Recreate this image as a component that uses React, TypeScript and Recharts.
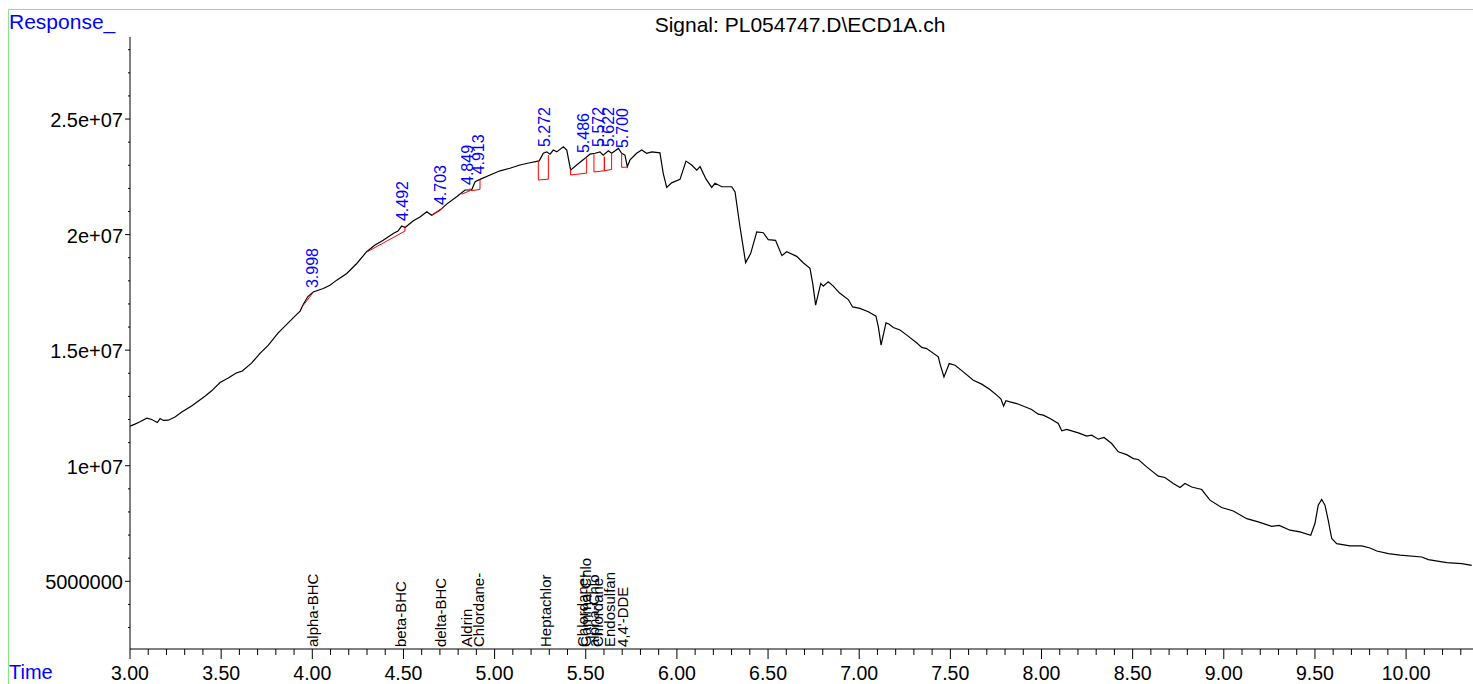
import React from 'react';
import { ComposedChart, Line, XAxis, YAxis, Scatter, ReferenceLine } from 'recharts';

// retention time (min)
const times = [
  3.0, 3.027, 3.055, 3.092, 3.119, 3.15, 3.165, 3.183, 3.21, 3.247, 3.284, 3.338, 3.411, 3.448, 3.494,
  3.539, 3.585, 3.616, 3.668, 3.713, 3.759, 3.813, 3.868, 3.905, 3.933, 3.951, 3.975, 4.005, 4.06, 4.097,
  4.134, 4.189, 4.244, 4.298, 4.344, 4.389, 4.444, 4.47, 4.49, 4.509, 4.554, 4.591, 4.628, 4.655, 4.701,
  4.737, 4.792, 4.838, 4.874, 4.893, 4.92, 4.975, 5.03, 5.084, 5.139, 5.194, 5.245, 5.267, 5.286, 5.304,
  5.322, 5.341, 5.377, 5.396, 5.417, 5.45, 5.496, 5.523, 5.551, 5.578, 5.596, 5.624, 5.642, 5.679, 5.697,
  5.715, 5.728, 5.743, 5.779, 5.807, 5.834, 5.862, 5.907, 5.925, 5.944, 5.971, 6.017, 6.05, 6.081, 6.109,
  6.127, 6.16, 6.191, 6.209, 6.246, 6.301, 6.319, 6.346, 6.377, 6.405, 6.438, 6.474, 6.501, 6.541, 6.576,
  6.602, 6.657, 6.693, 6.73, 6.745, 6.761, 6.789, 6.803, 6.83, 6.858, 6.891, 6.94, 6.964, 7.004, 7.05,
  7.092, 7.105, 7.12, 7.147, 7.163, 7.187, 7.224, 7.261, 7.315, 7.343, 7.37, 7.434, 7.443, 7.465, 7.494,
  7.526, 7.571, 7.626, 7.672, 7.717, 7.761, 7.778, 7.792, 7.805, 7.827, 7.864, 7.919, 7.946, 7.982, 8.01,
  8.047, 8.092, 8.111, 8.138, 8.202, 8.248, 8.275, 8.312, 8.343, 8.385, 8.421, 8.467, 8.504, 8.531, 8.577,
  8.641, 8.677, 8.723, 8.76, 8.787, 8.824, 8.879, 8.924, 8.988, 9.052, 9.126, 9.189, 9.263, 9.304, 9.363,
  9.418, 9.477, 9.5, 9.518, 9.537, 9.555, 9.573, 9.592, 9.619, 9.692, 9.756, 9.802, 9.839, 9.903, 9.967,
  10.086, 10.122, 10.223, 10.305, 10.36,
];

// detector response, millions
const responseM = [
  11.71, 11.8, 11.9, 12.06, 12.0, 11.87, 12.04, 11.96, 11.97, 12.11, 12.32, 12.58, 13.01, 13.24, 13.6,
  13.8, 14.02, 14.1, 14.45, 14.86, 15.22, 15.75, 16.18, 16.47, 16.69, 16.99, 17.31, 17.52, 17.67, 17.81,
  18.03, 18.32, 18.75, 19.26, 19.55, 19.76, 20.05, 20.15, 20.37, 20.31, 20.6, 20.76, 20.99, 20.84, 21.06,
  21.32, 21.64, 21.93, 21.93, 22.29, 22.39, 22.58, 22.76, 22.87, 23.01, 23.11, 23.19, 23.52, 23.58, 23.48,
  23.66, 23.58, 23.8, 23.66, 22.79, 23.01, 23.3, 23.48, 23.52, 23.58, 23.44, 23.63, 23.52, 23.73, 23.52,
  23.44, 22.94, 23.23, 23.52, 23.66, 23.52, 23.58, 23.54, 22.65, 22.04, 22.24, 22.39, 23.18, 23.01, 22.79,
  22.94, 22.4, 22.04, 22.22, 22.07, 22.07, 21.85, 20.34, 18.79, 19.19, 20.12, 20.08, 19.78, 19.75, 19.09,
  19.26, 19.06, 18.78, 18.54, 17.89, 16.95, 17.89, 17.77, 17.96, 17.77, 17.48, 17.19, 16.87, 16.81, 16.66,
  16.47, 16.01, 15.22, 16.18, 16.13, 15.98, 15.87, 15.65, 15.32, 15.12, 15.07, 14.71, 14.42, 13.84, 14.42,
  14.35, 14.06, 13.7, 13.53, 13.3, 13.01, 12.88, 12.58, 12.81, 12.76, 12.69, 12.52, 12.43, 12.23, 12.19,
  12.04, 11.83, 11.51, 11.57, 11.42, 11.28, 11.32, 11.15, 11.22, 10.96, 10.6, 10.48, 10.31, 10.27, 9.95,
  9.55, 9.49, 9.23, 9.06, 9.23, 9.08, 8.97, 8.51, 8.19, 8.04, 7.71, 7.57, 7.38, 7.42, 7.21,
  7.14, 6.99, 7.5, 8.29, 8.54, 8.29, 7.64, 6.85, 6.63, 6.53, 6.53, 6.44, 6.31, 6.2, 6.13,
  6.05, 5.94, 5.81, 5.76, 5.69,
];

// integrated peaks
const peakTimes = [3.998, 4.492, 4.703, 4.849, 4.913, 5.272, 5.486, 5.572, 5.622, 5.7];
const peakApexM = [17.47, 20.37, 21.06, 21.93, 22.39, 23.57, 23.31, 23.58, 23.57, 23.53];

// integration baselines (start/end time, curve value, baseline value), millions
const baseStartT = [3.947, 4.302, 4.655, 4.82, 4.874, 5.24, 5.417, 5.545, 5.602, 5.697];
const baseStartCurveM = [16.9, 19.26, 20.84, 21.75, 21.93, 23.19, 22.83, 23.48, 23.37, 23.55];
const baseStartM = [16.9, 19.26, 20.84, 21.75, 21.9, 22.36, 22.58, 22.71, 22.76, 22.91];
const baseEndT = [4.005, 4.508, 4.719, 4.865, 4.92, 5.295, 5.505, 5.602, 5.642, 5.728];
const baseEndM = [17.5, 20.15, 21.18, 21.9, 21.96, 22.4, 22.66, 22.76, 22.82, 22.92];
const baseEndCurveM = [17.52, 20.37, 21.18, 22.0, 22.39, 23.44, 23.3, 23.37, 23.52, 22.94];

// compound names on the time axis
const compoundNames = [
  'alpha-BHC', 'beta-BHC', 'delta-BHC', 'Aldrin', 'Chlordane-', 'Heptachlor',
  'Chlordane-', 'Gamma-Chlo', 'alpha-Chlo', 'Chlordane', 'Endosulfan', "4,4'-DDE",
];
const compoundTimes = [4.005, 4.487, 4.704, 4.847, 4.911, 5.282, 5.485, 5.5, 5.545, 5.567, 5.629, 5.703];

const Y_MIN = 2.07e6;
const Y_MAX = 2.855e7;
const X_MIN = 3;
const X_MAX = 10.367;

const curve = times.map((t, i) => ({ t, v: responseM[i] * 1e6 }));
const peaks = peakTimes.map((t, i) => ({ t, v: peakApexM[i] * 1e6, label: t.toFixed(3) }));
const compounds = compoundTimes.map((t, i) => ({ t, v: Y_MIN, name: compoundNames[i] }));

const xTicks = Array.from({ length: 74 }, (_, i) => Math.round((3 + i * 0.1) * 10) / 10);
const yTicks = Array.from({ length: 26 }, (_, i) => (3 + i) * 1e6);

const FONT = '"Liberation Sans", Arial, sans-serif';

const fmtY = (v: number) => (v >= 1e7 ? `${v / 1e7}e+07` : `${v}`);

const XTick = (props: any) => {
  const { x, y, payload } = props;
  const v = payload.value;
  const major = Math.abs(v * 2 - Math.round(v * 2)) < 1e-6;
  return (
    <g>
      <line x1={x} x2={x} y1={y} y2={y + (major ? 10 : 6)} stroke="#000" />
      {major && (
        <text x={x} y={y + 31} textAnchor="middle" fontSize={19.5} fontFamily={FONT} fill="#000">
          {v.toFixed(2)}
        </text>
      )}
    </g>
  );
};

const YTick = (props: any) => {
  const { x, y, payload } = props;
  const v = payload.value;
  const major = Math.round(v / 1e6) % 5 === 0;
  return (
    <g>
      <line x1={x - (major ? 5 : 2)} x2={x} y1={y} y2={y} stroke="#000" />
      {major && (
        <text x={x - 7} y={y + 8} textAnchor="end" fontSize={20} fontFamily={FONT} fill="#000">
          {fmtY(v)}
        </text>
      )}
    </g>
  );
};

const PeakLabel = (props: any) => {
  const { cx, cy, payload } = props;
  const y = cy - 5;
  return (
    <text
      x={cx}
      y={y}
      dy="0.35em"
      transform={`rotate(-90 ${cx} ${y})`}
      textAnchor="start"
      fontSize={16}
      fontFamily={FONT}
      fill="#0000ff"
    >
      {payload.label}
    </text>
  );
};

const CompoundLabel = (props: any) => {
  const { cx, cy, payload } = props;
  const y = cy - 2;
  return (
    <text
      x={cx}
      y={y}
      dy="0.35em"
      transform={`rotate(-90 ${cx} ${y})`}
      textAnchor="start"
      fontSize={15}
      fontFamily={FONT}
      fill="#000"
    >
      {payload.name}
    </text>
  );
};

export default function App() {
  const segs: Array<[number, number, number, number]> = [];
  baseStartT.forEach((t0, i) => {
    const t1 = baseEndT[i];
    segs.push([t0, baseStartCurveM[i], t0, baseStartM[i]]);
    segs.push([t0, baseStartM[i], t1, baseEndM[i]]);
    segs.push([t1, baseEndM[i], t1, baseEndCurveM[i]]);
  });

  return (
    <div style={{ position: 'fixed', left: 0, top: 0, width: 1473, height: 684, overflow: 'hidden', background: '#fff' }}>
      <div
        style={{
          position: 'absolute',
          left: 8,
          top: 9,
          width: 1500,
          height: 700,
          borderLeft: '1px solid #88e888',
          borderTop: '1px solid #88e888',
        }}
      />
      <div style={{ position: 'absolute', left: 8, top: 8 }}>
        <ComposedChart width={1465} height={676} data={curve} margin={{ top: 29, right: 0, bottom: 0, left: 0 }}>
          <XAxis
            type="number"
            dataKey="t"
            domain={[X_MIN, X_MAX]}
            ticks={xTicks}
            interval={0}
            tick={<XTick />}
            tickLine={false}
            tickSize={0}
            tickMargin={0}
            axisLine={{ stroke: '#000' }}
            height={35}
            allowDataOverflow
          />
          <YAxis
            type="number"
            domain={[Y_MIN, Y_MAX]}
            ticks={yTicks}
            interval={0}
            tick={<YTick />}
            tickLine={false}
            tickSize={0}
            tickMargin={0}
            axisLine={{ stroke: '#000' }}
            width={122}
            allowDataOverflow
          />
          <Line
            dataKey="v"
            type="linear"
            stroke="#000"
            strokeWidth={1.2}
            dot={false}
            activeDot={false}
            isAnimationActive={false}
          />
          {segs.map((s, i) => (
            <ReferenceLine
              key={i}
              segment={[
                { x: s[0], y: s[1] * 1e6 },
                { x: s[2], y: s[3] * 1e6 },
              ]}
              stroke="#ff0000"
              strokeWidth={1}
              ifOverflow="visible"
            />
          ))}
          <Scatter data={peaks} dataKey="v" shape={<PeakLabel />} isAnimationActive={false} />
          <Scatter data={compounds} dataKey="v" shape={<CompoundLabel />} isAnimationActive={false} />
        </ComposedChart>
      </div>
      <svg width={1473} height={684} style={{ position: 'absolute', left: 0, top: 0, pointerEvents: 'none' }}>
        <text x={9} y={29} fontSize={21} fontFamily={FONT} fill="#0000ff">
          Response_
        </text>
        <text x={800} y={32} textAnchor="middle" fontSize={21} fontFamily={FONT} fill="#000">
          Signal: PL054747.D\ECD1A.ch
        </text>
        <text x={9} y={679} fontSize={20} fontFamily={FONT} fill="#0000ff">
          Time
        </text>
      </svg>
    </div>
  );
}
